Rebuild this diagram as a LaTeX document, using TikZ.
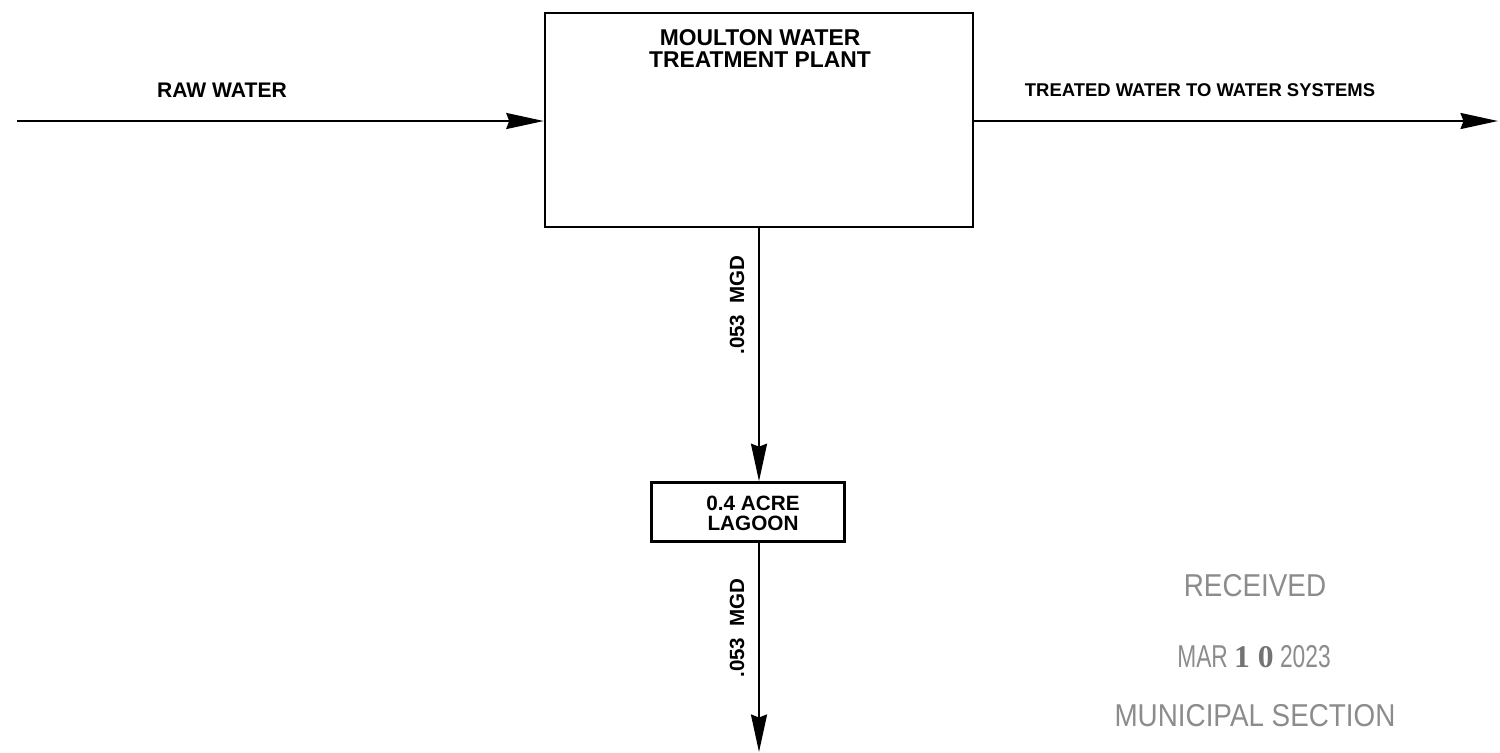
\documentclass[tikz,border=0pt]{standalone}
\usepackage{fontspec}
\setmainfont{Liberation Sans}
\newfontfamily\stampfont[FakeStretch=0.88]{Liberation Sans}
\newfontfamily\condfont[FakeStretch=0.72]{Liberation Sans}
\newfontfamily\datefont{Liberation Serif}
\usetikzlibrary{arrows.meta,positioning}

\begin{document}
\begin{tikzpicture}[x=0.02cm,y=-0.02cm,
  flow/.style={line width=1.2pt,-{Stealth[length=7.5mm,width=3.2mm,inset=0.6mm]}},
  unit/.style={draw,line width=1.5pt,inner sep=0pt},
  lbl/.style={font=\bfseries,align=center,inner sep=0pt},
  stamp/.style={text=black!45,font=\fontsize{18}{20}\selectfont\stampfont,inner sep=0pt}]
\useasboundingbox (0,0) rectangle (1500,752);
\node[unit,minimum width=8.56cm,minimum height=4.28cm] (plant) at (759,120) {};
\node[lbl,font=\bfseries\fontsize{13}{12.5}\selectfont,anchor=north] (plantlbl) at (760,29) {MOULTON WATER\\TREATMENT PLANT};
\node[unit,minimum width=3.86cm,minimum height=1.18cm] (lagoon) at (748,512) {};
\node[lbl,font=\bfseries\fontsize{11.8}{11.5}\selectfont] (lagoonlbl) at (753,513) {0.4 ACRE\\LAGOON};
\coordinate (rawin) at (17,121);
\coordinate (treatout) at (1498,121);
\coordinate (outlet) at (759,752);
\draw[flow] (rawin) -- (plant.west |- rawin);
\draw[flow] (plant.east |- treatout) -- (treatout);
\draw[flow] (plant.south) -- (plant.south |- lagoon.north);
\draw[flow] (plant.south |- lagoon.south) -- (outlet);
\node[lbl,font=\bfseries\fontsize{12}{14}\selectfont] (rawlbl) at (222,90) {RAW WATER};
\node[lbl,font=\bfseries\fontsize{10.5}{12}\selectfont] (treatlbl) at (1200,90) {TREATED WATER TO WATER SYSTEMS};
\node[lbl,font=\bfseries\fontsize{11.7}{13}\selectfont,rotate=90] (flow1) at (737,305) {.053\ \ MGD};
\node[lbl,font=\bfseries\fontsize{11.7}{13}\selectfont,rotate=90] (flow2) at (737,628) {.053\ \ MGD};
\node[stamp] (recv) at (1255,586) {RECEIVED};
\node[stamp] (date) at (1254,657) {\condfont MAR {\datefont\bfseries\color{black!55}1 0} 2023};
\node[stamp] (sect) at (1255,716) {MUNICIPAL SECTION};
\end{tikzpicture}
\end{document}
